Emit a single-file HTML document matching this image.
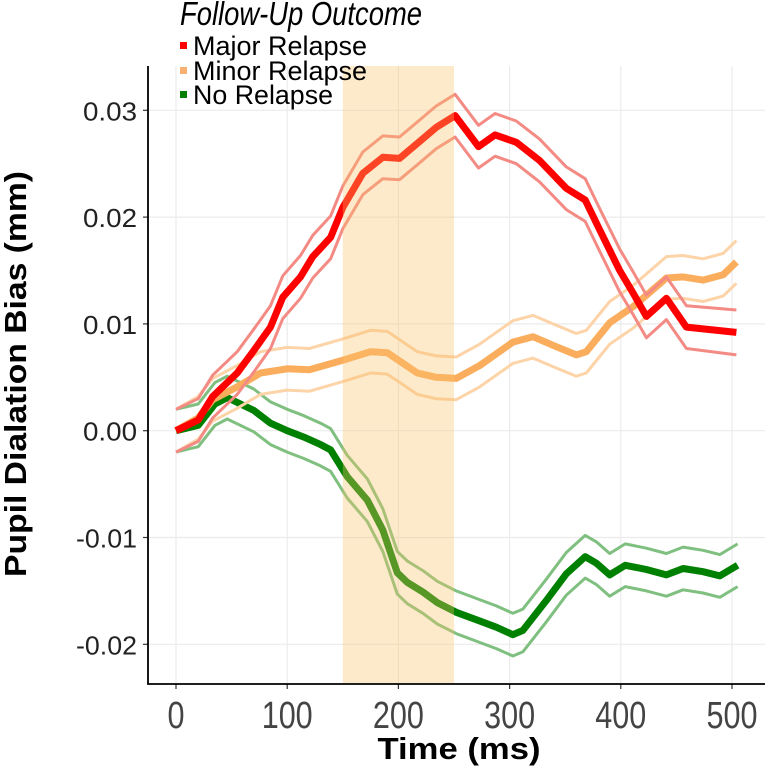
<!DOCTYPE html>
<html><head><meta charset="utf-8"><style>
body{margin:0;background:#fff}
svg{display:block;font-family:"Liberation Sans",sans-serif}
</style></head><body>
<svg id="chart" width="768" height="772">
<g id="grid"></g>
<g id="series"></g>
<g id="shade"></g>
<g id="axes"></g>
<text x="26" y="374" transform="rotate(-90 26 374)" text-anchor="middle" font-size="31" font-weight="bold" textLength="406" lengthAdjust="spacingAndGlyphs">Pupil Dialation Bias (mm)</text>
<text x="459" y="759" text-anchor="middle" font-size="31" font-weight="bold" textLength="163" lengthAdjust="spacingAndGlyphs">Time (ms)</text>
<g>
<text x="180" y="25" font-size="33" font-style="italic" textLength="242" lengthAdjust="spacingAndGlyphs">Follow-Up Outcome</text>
<rect x="180" y="42" width="7" height="7" fill="#ff0000"/>
<text x="193" y="55" font-size="27" textLength="174" lengthAdjust="spacingAndGlyphs">Major Relapse</text>
<rect x="180" y="67" width="7" height="7" fill="#f9b070"/>
<text x="193" y="80" font-size="27" textLength="174" lengthAdjust="spacingAndGlyphs">Minor Relapse</text>
<rect x="180" y="91" width="7" height="7" fill="#008000"/>
<text x="193" y="104" font-size="27" textLength="140" lengthAdjust="spacingAndGlyphs">No Relapse</text>
</g>
</svg>
<script>
const xTicks=[0,100,200,300,400,500];
const yTicks=[-0.02,-0.01,0,0.01,0.02,0.03];
const yTickLabels=["-0.02","-0.01","0.00","0.01","0.02","0.03"];
const windowRange=[150,250];
const tMajor=[0,20,33,55,70,85,96,112,123,139,150,168,186,201,217,234,251,272,287,306,327,351,368,381,399,411,423,441,459,504];
const mMajor=[0,0.001,0.0032,0.0054,0.0075,0.0097,0.0125,0.0144,0.0163,0.0181,0.0209,0.0241,0.0256,0.0255,0.0269,0.0284,0.0295,0.0266,0.0277,0.027,0.0253,0.0227,0.0216,0.0188,0.015,0.0129,0.0107,0.0124,0.0097,0.0092];
const seMajor=[0.002,0.002,0.002,0.002,0.002,0.002,0.002,0.002,0.002,0.002,0.002,0.002,0.002,0.002,0.002,0.002,0.002,0.002,0.002,0.002,0.002,0.002,0.002,0.002,0.002,0.002,0.002,0.002,0.002,0.0021];
const tMinor=[0,20,33,55,76,100,120,150,175,190,217,234,252,273,303,321,339,360,369,390,411,441,456,474,492,504];
const mMinor=[0,0.0012,0.0029,0.0041,0.0054,0.0058,0.0057,0.0066,0.0074,0.0073,0.0054,0.005,0.0049,0.0061,0.0083,0.0088,0.008,0.0071,0.0074,0.0101,0.0116,0.0143,0.0144,0.0141,0.0146,0.0158];
const seMinor=[0.002,0.002,0.002,0.002,0.002,0.002,0.002,0.002,0.002,0.002,0.002,0.002,0.002,0.002,0.002,0.002,0.002,0.002,0.002,0.002,0.002,0.002,0.002,0.002,0.002,0.002];
const tNone=[0,20,35,46,70,85,100,115,130,139,154,172,186,199,208,222,235,252,270,288,303,312,333,351,368,378,390,404,423,441,456,474,489,505];
const mNone=[0,0.0005,0.0025,0.0031,0.0019,0.0007,0,-0.0006,-0.0013,-0.0018,-0.0043,-0.0065,-0.0093,-0.0133,-0.0142,-0.0151,-0.0161,-0.017,-0.0177,-0.0184,-0.0191,-0.0187,-0.0159,-0.0134,-0.0118,-0.0124,-0.0135,-0.0126,-0.013,-0.0135,-0.0129,-0.0132,-0.0136,-0.0126];
const seNone=[0.002,0.002,0.002,0.002,0.002,0.002,0.002,0.002,0.002,0.002,0.002,0.002,0.002,0.002,0.002,0.002,0.002,0.002,0.002,0.002,0.002,0.002,0.002,0.002,0.002,0.002,0.002,0.002,0.002,0.002,0.002,0.002,0.002,0.002];

const NS='http://www.w3.org/2000/svg';
const L=148,R=765,T=66,B=684;
const x=t=>176+t*1.112;
const y=v=>430.7-v*10680;
function mk(tag,attrs,parent){const e=document.createElementNS(NS,tag);for(const k in attrs)e.setAttribute(k,attrs[k]);parent.appendChild(e);return e;}
const grid=document.getElementById('grid'),axes=document.getElementById('axes'),ser=document.getElementById('series'),shade=document.getElementById('shade');
mk('rect',{x:L,y:T,width:R-L,height:B-T,fill:'#fff'},grid);
xTicks.forEach(t=>{
  const g=mk('line',{x1:x(t),x2:x(t),y1:T,y2:B,stroke:'#ebebeb','stroke-width':1.2},grid);
  
  
  const tk=mk('line',{x1:x(t),x2:x(t),y1:B,y2:B+5,stroke:'#333','stroke-width':1.2},axes);
  
  
  const s=String(t);
  const lb=mk('text',{x:x(t),y:728,'text-anchor':'middle','font-size':38,fill:'#444',textLength:17*s.length,lengthAdjust:'spacingAndGlyphs'},axes);
  lb.textContent=s;
  
  
});
yTicks.forEach((v,i)=>{
  const g=mk('line',{x1:L,x2:R,y1:y(v),y2:y(v),stroke:'#ebebeb','stroke-width':1.2},grid);
  
  
  const tk=mk('line',{x1:L-5,x2:L,y1:y(v),y2:y(v),stroke:'#333','stroke-width':1.2},axes);
  
  
  const s=yTickLabels[i];
  const lb=mk('text',{x:137,y:y(v)+10,'text-anchor':'end','font-size':26,fill:'#222',textLength:s.length===5?61:54,lengthAdjust:'spacingAndGlyphs'},axes);
  lb.textContent=s;
  
  
});
const al=mk('polyline',{points:`${L},${T} ${L},${B} ${R},${B}`,fill:'none',stroke:'#000','stroke-width':1.8},axes);


function pts(ts,vs,off,sign){return ts.map((t,i)=>x(t).toFixed(1)+','+y(vs[i]+sign*(off?off[i]:0)).toFixed(1)).join(' ');}
function draw(ts,ms,ses,col,ribCol,name){
  const u=mk('polyline',{points:pts(ts,ms,ses,1),fill:'none',stroke:ribCol,'stroke-width':3,'stroke-linejoin':'round'},ser);
  
  
  const lo=mk('polyline',{points:pts(ts,ms,ses,-1),fill:'none',stroke:ribCol,'stroke-width':3,'stroke-linejoin':'round'},ser);
  
  
  const m=mk('polyline',{points:pts(ts,ms,null,0),fill:'none',stroke:col,'stroke-width':7,'stroke-linejoin':'round'},ser);
  
  
}
draw(tNone,mNone,seNone,'#008000','#7fbf7f','no-relapse');
draw(tMinor,mMinor,seMinor,'#fbad5e','#fdd3a8','minor-relapse');
draw(tMajor,mMajor,seMajor,'#ff0000','#f48a84','major-relapse');
const sr=mk('rect',{x:x(windowRange[0]),y:T,width:x(windowRange[1])-x(windowRange[0]),height:B-T-1,fill:'#f9c46a','fill-opacity':0.35},shade);


</script>
</body></html>
